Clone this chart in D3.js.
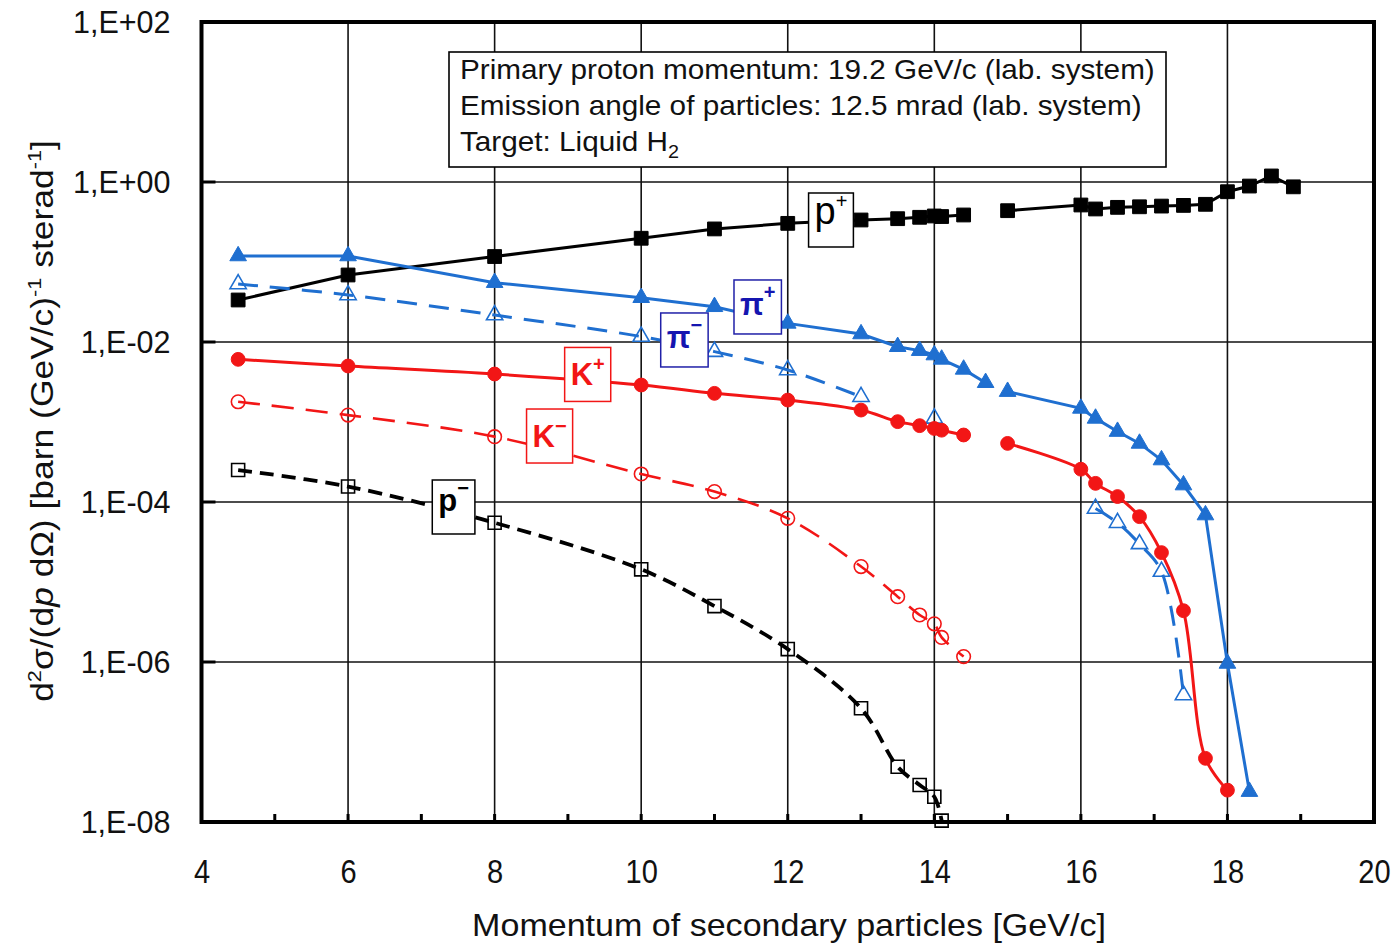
<!DOCTYPE html>
<html><head><meta charset="utf-8">
<script src="https://cdn.jsdelivr.net/npm/d3@7"></script>
<style>body{margin:0;background:#fff} svg{display:block} text{font-family:"Liberation Sans",Arial,sans-serif}</style>
</head><body><svg id="c" width="1399" height="944"></svg>
<script>
// ---- data ----
const xTicks=[4,6,8,10,12,14,16,18,20];
const xTickLabels=["4","6","8","10","12","14","16","18","20"];
const yTicks=[1e2,1e0,1e-2,1e-4,1e-6,1e-8];
const yTickLabels=["1,E+02","1,E+00","1,E-02","1,E-04","1,E-06","1,E-08"];

const pPlusX=[4.5,6,8,10,11,12,13,13.5,13.8,14,14.1,14.4,15,16,16.2,16.5,16.8,17.1,17.4,17.7,18,18.3,18.6,18.9];
const pPlusY=[0.0335,0.0688,0.117,0.198,0.259,0.304,0.335,0.348,0.362,0.376,0.37,0.387,0.438,0.516,0.46,0.482,0.49,0.5,0.51,0.526,0.756,0.89,1.19,0.87];
const pPlusGaps=[14.4];

const piPlusX=[4.5,6,8,10,11,12,13,13.5,13.8,14,14.1,14.4,14.7,15,16,16.2,16.5,16.8,17.1,17.4,17.7,18,18.3];
const piPlusY=[0.119,0.119,0.0552,0.0358,0.0276,0.0171,0.0126,0.00874,0.0078,0.00688,0.00607,0.00455,0.0031,0.0024,0.00148,0.00111,0.00076,0.00054,0.000335,0.000163,0.0000688,9.6e-7,2.4e-8];
const piPlusGaps=[14.7];

const piMinusX=[4.5,6,8,10,11,12,13,14,16.2,16.5,16.8,17.1,17.4];
const piMinusY=[0.0531,0.0387,0.0217,0.0117,0.00758,0.00447,0.00207,0.00111,8.3e-5,5.5e-5,2.99e-5,1.35e-5,3.87e-7];
const piMinusGaps=[13,14];

const kPlusX=[4.5,6,8,10,11,12,13,13.5,13.8,14,14.1,14.4,15,16,16.2,16.5,16.8,17.1,17.4,17.7,18];
const kPlusY=[0.00607,0.00501,0.00398,0.0029,0.00228,0.00188,0.00141,0.00101,0.0009,0.00083,0.00079,0.000688,0.00054,0.000257,0.000171,0.000117,6.56e-5,2.33e-5,4.38e-6,6.25e-8,2.5e-8];
const kPlusGaps=[14.4];

const kMinusX=[4.5,6,8,10,11,12,13,13.5,13.8,14,14.1,14.4];
const kMinusY=[0.00179,0.00122,0.000656,0.000224,0.000135,6.25e-5,1.56e-5,6.56e-6,3.87e-6,3.0e-6,2.03e-6,1.17e-6];
const kMinusGaps=[];

const pMinusX=[4.5,6,8,10,11,12,13,13.5,13.8,14,14.1];
const pMinusY=[2.51e-4,1.56e-4,5.5e-5,1.44e-5,5.0e-6,1.45e-6,2.64e-7,4.9e-8,2.9e-8,2.07e-8,1.04e-8];
const pMinusGaps=[];

const infoLines=["Primary proton momentum: 19.2 GeV/c (lab. system)","Emission angle of particles: 12.5 mrad (lab. system)","Target: Liquid H"];
const xTitle="Momentum of secondary particles [GeV/c]";

// label anchors (data space)
const labelNames=["p","π","π","K","K","p"];
const labelSups=["+","+","−","+","−","−"];
const labelX=[12.59,11.59,10.59,9.27,8.75,7.44];
const labelY=[0.335,0.0274,0.0106,0.00393,0.000668,8.66e-5];

// ---- drawing ----
const svg=d3.select("#c");
const x=d3.scaleLinear().domain([4,20]).range([201.5,1374]);
const y=d3.scaleLog().domain([1e-8,1e2]).range([822,22]);
const L=201.5,R=1374,T=22,B=822;

const BLUE="#1f6fd0", RED="#f21616", BLACK="#000";

// grid
svg.append("g").selectAll("line").data(xTicks.slice(1,-1)).join("line")
  .attr("x1",d=>x(d)).attr("x2",d=>x(d)).attr("y1",T).attr("y2",B)
  .attr("stroke","#111").attr("stroke-width",1.6);
svg.append("g").selectAll("line").data(yTicks.slice(1,-1)).join("line")
  .attr("y1",d=>y(d)).attr("y2",d=>y(d)).attr("x1",L).attr("x2",R)
  .attr("stroke","#111").attr("stroke-width",1.6);

// minor ticks
svg.append("g").selectAll("line").data(d3.range(5,20)).join("line")
  .attr("x1",d=>x(d)).attr("x2",d=>x(d)).attr("y1",B).attr("y2",B-8)
  .attr("stroke","#000").attr("stroke-width",3);
svg.append("g").selectAll("line").data(yTicks.slice(1,-1)).join("line")
  .attr("y1",d=>y(d)).attr("y2",d=>y(d)).attr("x1",L).attr("x2",L+14)
  .attr("stroke","#000").attr("stroke-width",3);

function segments(xs,ys,gaps){
  const segs=[];let cur=[];
  xs.forEach((v,i)=>{cur.push([v,ys[i]]); if(gaps.includes(v)){segs.push(cur);cur=[];}});
  if(cur.length)segs.push(cur);
  return segs;
}
const series=[
 {xs:pPlusX,ys:pPlusY,gaps:pPlusGaps,color:BLACK,dash:null,w:3,curve:d3.curveLinear,marker:"sq",filled:true},
 {xs:piPlusX,ys:piPlusY,gaps:piPlusGaps,color:BLUE,dash:null,w:3,curve:d3.curveLinear,marker:"tri",filled:true},
 {xs:piMinusX,ys:piMinusY,gaps:piMinusGaps,color:BLUE,dash:"20,12",w:3,curve:d3.curveCatmullRom,marker:"tri",filled:false},
 {xs:kPlusX,ys:kPlusY,gaps:kPlusGaps,color:RED,dash:null,w:3,curve:d3.curveCatmullRom,marker:"circ",filled:true},
 {xs:kMinusX,ys:kMinusY,gaps:kMinusGaps,color:RED,dash:"22,12",w:2.6,curve:d3.curveCatmullRom,marker:"circ",filled:false},
 {xs:pMinusX,ys:pMinusY,gaps:pMinusGaps,color:BLACK,dash:"14,8",w:3.8,curve:d3.curveCatmullRom,marker:"sq",filled:false}
];
const gl=svg.append("g"), gm=svg.append("g");
series.forEach(s=>{
  const line=d3.line().x(d=>x(d[0])).y(d=>y(d[1])).curve(s.curve);
  segments(s.xs,s.ys,s.gaps).forEach(seg=>{
    if(seg.length<2)return;
    gl.append("path").attr("d",line(seg)).attr("fill","none").attr("stroke",s.color)
      .attr("stroke-width",s.w).attr("stroke-dasharray",s.dash);
  });
  const pts=s.xs.map((v,i)=>[v,s.ys[i]]);
  let sym;
  if(s.marker==="sq") sym=d3.symbol(d3.symbolSquare, s.filled?190:170);
  else if(s.marker==="tri") sym=d3.symbol(d3.symbolTriangle, s.filled?120:115);
  else sym=d3.symbol(d3.symbolCircle, s.filled?150:145);
  gm.selectAll(null).data(pts).join("path")
    .attr("transform",d=>`translate(${x(d[0])},${y(d[1])})`)
    .attr("d",sym)
    .attr("fill",s.filled?s.color:"none")
    .attr("stroke",s.color).attr("stroke-width",s.filled?1:1.6);
});

// label boxes
const labelColors=[BLACK,"#1515b0","#1515b0",RED,RED,BLACK];
const labelBorders=[BLACK,"#2020a8","#2020a8",RED,RED,BLACK];
labelNames.forEach((n,i)=>{
  const g=svg.append("g").attr("transform",`translate(${x(labelX[i])},${y(labelY[i])})`);
  const rect=g.append("rect");
  const big=(i===0);
  const t=g.append("text").attr("fill",labelColors[i])
    .attr("font-size",big?38:31).attr("font-weight",big?"normal":"bold");
  t.append("tspan").text(n);
  t.append("tspan").attr("font-size",20).attr("dy",n==="K"?-14:-16).text(labelSups[i]);
  const bb=t.node().getBBox();
  const w=bb.width+12, h=54;
  t.attr("x",-bb.width/2).attr("y",n==="K"?11:(n==="π"?8:4));
  rect.attr("x",-w/2).attr("y",-h/2).attr("width",w).attr("height",h)
    .attr("fill","#fff").attr("stroke",labelBorders[i]).attr("stroke-width",1.5);
});

// info box
const ib=svg.append("g");
ib.append("rect").attr("x",449).attr("y",52).attr("width",717).attr("height",115)
  .attr("fill","#fff").attr("stroke","#000").attr("stroke-width",1.6);
const infoTexts=infoLines.map((s,i)=>{
  const t=ib.append("text").attr("font-size",27).attr("fill","#111");
  t.append("tspan").text(s);
  if(i===2) t.append("tspan").attr("font-size",18).attr("dy",7).text("2");
  return t;
});
const w0=infoTexts[0].node().getComputedTextLength();
const sxInfo=695/w0;
infoTexts.forEach((t,i)=>t.attr("transform",`translate(460,${79+i*36}) scale(${sxInfo},1)`));

// frame
svg.append("rect").attr("x",L).attr("y",T).attr("width",R-L).attr("height",B-T)
  .attr("fill","none").attr("stroke","#000").attr("stroke-width",4);

// axes labels
const xa=svg.append("g").attr("transform",`translate(0,${B})`)
  .call(d3.axisBottom(x).tickValues(xTicks).tickSize(0).tickFormat((d,i)=>xTickLabels[i]));
xa.select(".domain").remove();
xa.selectAll("text").attr("y",61).attr("dy",0).attr("font-size",33)
  .attr("font-family","'Liberation Sans',Arial,sans-serif").attr("fill","#111")
  .attr("transform","scale(0.88,1)");
const ya=svg.append("g").attr("transform",`translate(${L},0)`)
  .call(d3.axisLeft(y).tickValues(yTicks).tickSize(0).tickPadding(31).tickFormat((d,i)=>yTickLabels[i]));
ya.select(".domain").remove();
ya.selectAll("text").attr("font-size",30.5).attr("dy","0.36em")
  .attr("font-family","'Liberation Sans',Arial,sans-serif").attr("fill","#111");

// x title
const xt=svg.append("text").attr("font-size",32).attr("text-anchor","middle").attr("fill","#111").text(xTitle);
const xtw=xt.node().getComputedTextLength();
xt.attr("transform",`translate(789,936) scale(${634/xtw},1)`);

// y title
const yt=svg.append("text").attr("font-size",31).attr("text-anchor","middle").attr("fill","#111");
yt.append("tspan").text("d");
yt.append("tspan").attr("font-size",19).attr("dy",-12).text("2");
yt.append("tspan").attr("dy",12).text("σ/(d");
yt.append("tspan").attr("font-style","italic").text("p");
yt.append("tspan").text(" dΩ)   [barn (GeV/c)");
yt.append("tspan").attr("font-size",19).attr("dy",-12).text("-1");
yt.append("tspan").attr("dy",12).text(" sterad");
yt.append("tspan").attr("font-size",19).attr("dy",-12).text("-1");
yt.append("tspan").attr("dy",12).text("]");
const ytw=yt.node().getComputedTextLength();
yt.attr("transform",`translate(53,421) rotate(-90) scale(${562/ytw},1)`);
</script></body></html>
